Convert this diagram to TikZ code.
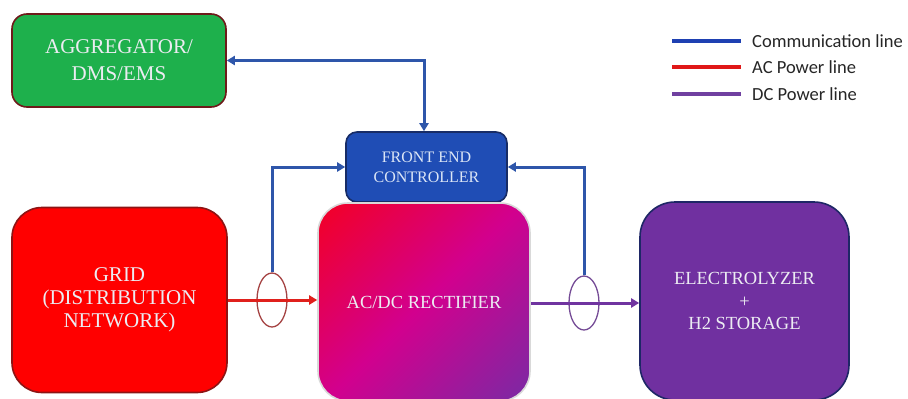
\documentclass[tikz,border=0pt]{standalone}
\usepackage{fontspec}
\setmainfont{Liberation Serif}
\newfontfamily\boxfont{Liberation Serif}
\newfontfamily\legfont{Carlito}
\usetikzlibrary{arrows.meta,positioning,calc,shapes.geometric}
\definecolor{aggfill}{HTML}{1EB04C}
\definecolor{aggline}{HTML}{6E1A1A}
\definecolor{gridfill}{HTML}{FF0000}
\definecolor{gridline}{HTML}{8E1414}
\definecolor{fecfill}{HTML}{1F4DB5}
\definecolor{fecline}{HTML}{172C66}
\definecolor{elecfill}{HTML}{7030A0}
\definecolor{elecline}{HTML}{1E2766}
\definecolor{recA}{HTML}{F0002E}
\definecolor{recB}{HTML}{D2008E}
\definecolor{recC}{HTML}{8226A2}
\definecolor{comm}{HTML}{2E56AA}
\definecolor{acl}{HTML}{E0201C}
\definecolor{dcl}{HTML}{7034A0}
\definecolor{legblue}{HTML}{1E40B2}
\definecolor{legred}{HTML}{E01818}
\definecolor{legpurple}{HTML}{7040A0}
\definecolor{boxtext}{HTML}{ECECF2}
\definecolor{fectext}{HTML}{DCE6F6}
\pgfdeclarehorizontalshading{recshade}{100bp}{color(0bp)=(recA); color(18bp)=(recA); color(50bp)=(recB); color(82bp)=(recC); color(100bp)=(recC)}
\tikzset{
  blockbox/.style={rectangle, line width=1.6pt, align=center, text=boxtext, inner sep=0pt},
  commline/.style={draw=comm, line width=3pt, -{Triangle[length=8pt,width=9pt]}},
  commboth/.style={draw=comm, line width=3pt, {Triangle[length=8pt,width=9pt]}-{Triangle[length=8pt,width=9pt]}},
  acline/.style={draw=acl, line width=3pt, -{Triangle[length=8pt,width=9pt]}},
  dcline/.style={draw=dcl, line width=3pt, -{Triangle[length=8pt,width=9pt]}},
  sensor/.style={ellipse, minimum width=30pt, minimum height=54pt, inner sep=0pt, line width=1.3pt},
  legline/.style={line width=3.5pt},
  legtext/.style={anchor=west, inner sep=0pt, text=black!85, font=\legfont\fontsize{18.5}{20}\selectfont},
}
\begin{document}
\begin{tikzpicture}[x=1pt,y=-1pt]
\useasboundingbox (0,0) rectangle (908,399);
\clip (0,0) rectangle (908,399);
\fill[white] (0,0) rectangle (908,399);

% boxes
\node[blockbox, fill=aggfill, draw=aggline, rounded corners=15pt,
      minimum width=214pt, minimum height=93pt,
      font=\boxfont\fontsize{21}{27}\selectfont] (agg) at (119,60.5) {AGGREGATOR/\\DMS/EMS};
\node[blockbox, fill=fecfill, draw=fecline, rounded corners=11pt, text=fectext,
      minimum width=161pt, minimum height=70pt,
      font=\boxfont\fontsize{16}{20}\selectfont] (fec) at (426.5,167) {FRONT END\\CONTROLLER};
\node[blockbox, fill=gridfill, draw=gridline, rounded corners=30pt,
      minimum width=215pt, minimum height=185pt,
      font=\boxfont\fontsize{21}{23}\selectfont] (grid) at (119.5,300) {GRID\\(DISTRIBUTION\\NETWORK)};
\node[blockbox, shading=recshade, shading angle=-45, draw=black!15, rounded corners=30pt,
      minimum width=212pt, minimum height=198pt,
      font=\boxfont\fontsize{18.5}{22}\selectfont] (rect) at (424,302) {AC/DC RECTIFIER};
\node[blockbox, fill=elecfill, draw=elecline, rounded corners=35pt,
      minimum width=209pt, minimum height=198pt,
      font=\boxfont\fontsize{18.5}{22.5}\selectfont] (elec) at (744.5,301) {ELECTROLYZER\\+\\H2 STORAGE};

% sensors
\node[sensor, draw=gridline!80!white] (acs) at (272,300) {};
\node[sensor, draw=dcl!70!gray] (dcs) at (584,303) {};

% power lines
\draw[acline] (grid.east |- acs) -- (rect.west |- acs);
\draw[dcline] (rect.east |- dcs) -- (elec.west |- dcs);

% communication lines
\draw[commline] (acs.north) |- (fec.west);
\draw[commline] (dcs.north) |- (fec.east);
\draw[commboth] (agg.east) -| ([xshift=-2.5pt]fec.north);

% legend
\node[legtext] (l1) at (752,41) {Communication line};
\node[legtext] (l2) at (752,67) {AC Power line};
\node[legtext] (l3) at (752,94) {DC Power line};
\draw[legline, legblue] ([xshift=-80pt]l1.west) -- ([xshift=-11pt]l1.west);
\draw[legline, legred] ([xshift=-80pt]l2.west) -- ([xshift=-11pt]l2.west);
\draw[legline, legpurple] ([xshift=-80pt]l3.west) -- ([xshift=-11pt]l3.west);
\end{tikzpicture}
\end{document}
